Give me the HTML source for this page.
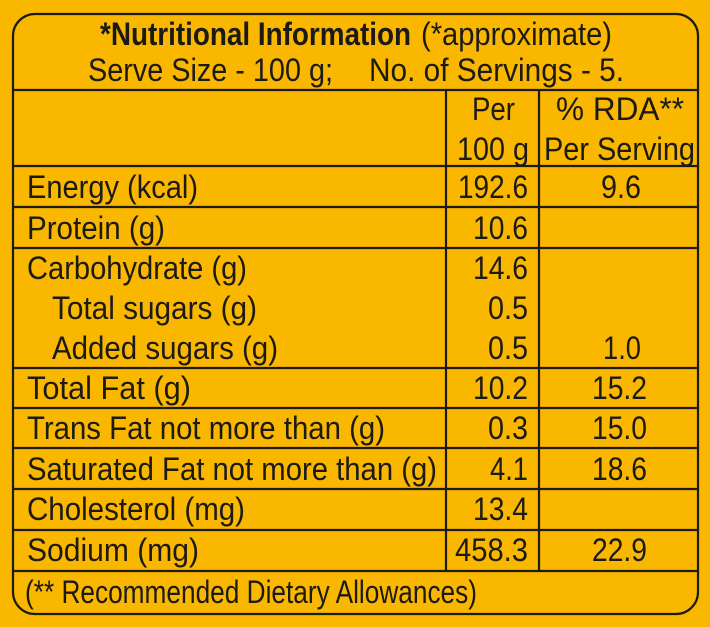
<!DOCTYPE html>
<html><head><meta charset="utf-8"><style>
html,body{margin:0;padding:0;background:#FAB700;}
svg{display:block}
text{font-family:"Liberation Sans Narrow","Liberation Sans",sans-serif;font-size:32px;fill:#1c1a14;}
</style></head><body>
<svg width="710" height="627" viewBox="0 0 710 627" xmlns="http://www.w3.org/2000/svg">
<rect width="710" height="627" fill="#FAB700"/>
<g stroke="#1c1a14" stroke-width="2.2" fill="none">
<rect x="13" y="14" width="685" height="600" rx="22" ry="22"/>
<line x1="13" y1="90" x2="698" y2="90"/>
<line x1="13" y1="166" x2="698" y2="166"/>
<line x1="13" y1="207" x2="698" y2="207"/>
<line x1="13" y1="248" x2="698" y2="248"/>
<line x1="13" y1="368" x2="698" y2="368"/>
<line x1="13" y1="408" x2="698" y2="408"/>
<line x1="13" y1="448" x2="698" y2="448"/>
<line x1="13" y1="489" x2="698" y2="489"/>
<line x1="13" y1="530" x2="698" y2="530"/>
<line x1="13" y1="571" x2="698" y2="571"/>
<line x1="446" y1="90" x2="446" y2="571"/>
<line x1="539" y1="90" x2="539" y2="571"/>
</g>
<text x="100" y="45" font-weight="bold" textLength="311" lengthAdjust="spacingAndGlyphs">*Nutritional Information</text>
<text x="421" y="45" textLength="191" lengthAdjust="spacingAndGlyphs">(*approximate)</text>
<text x="88" y="81" textLength="245" lengthAdjust="spacingAndGlyphs">Serve Size - 100 g;</text>
<text x="369" y="81" textLength="255" lengthAdjust="spacingAndGlyphs">No. of Servings - 5.</text>
<text x="472" y="120" textLength="43" lengthAdjust="spacingAndGlyphs">Per</text>
<text x="457" y="160" textLength="72" lengthAdjust="spacingAndGlyphs">100 g</text>
<text x="556" y="120" textLength="128" lengthAdjust="spacingAndGlyphs">% RDA**</text>
<text x="544" y="160" textLength="151" lengthAdjust="spacingAndGlyphs">Per Serving</text>
<g>
<text x="27" y="198" textLength="171" lengthAdjust="spacingAndGlyphs">Energy (kcal)</text>
<text x="27" y="239" textLength="138" lengthAdjust="spacingAndGlyphs">Protein (g)</text>
<text x="27" y="279" textLength="220" lengthAdjust="spacingAndGlyphs">Carbohydrate (g)</text>
<text x="52" y="319" textLength="205" lengthAdjust="spacingAndGlyphs">Total sugars (g)</text>
<text x="52" y="359" textLength="226" lengthAdjust="spacingAndGlyphs">Added sugars (g)</text>
<text x="27" y="399" textLength="164" lengthAdjust="spacingAndGlyphs">Total Fat (g)</text>
<text x="27" y="439" textLength="358" lengthAdjust="spacingAndGlyphs">Trans Fat not more than (g)</text>
<text x="27" y="480" textLength="410" lengthAdjust="spacingAndGlyphs">Saturated Fat not more than (g)</text>
<text x="27" y="520" textLength="218" lengthAdjust="spacingAndGlyphs">Cholesterol (mg)</text>
<text x="27" y="561" textLength="172" lengthAdjust="spacingAndGlyphs">Sodium (mg)</text>
<text x="25" y="603" textLength="452" lengthAdjust="spacingAndGlyphs">(** Recommended Dietary Allowances)</text>
</g>
<g>
<text x="458" y="198" textLength="70" lengthAdjust="spacingAndGlyphs">192.6</text>
<text x="473" y="239" textLength="55" lengthAdjust="spacingAndGlyphs">10.6</text>
<text x="473" y="279" textLength="55" lengthAdjust="spacingAndGlyphs">14.6</text>
<text x="488" y="319" textLength="40" lengthAdjust="spacingAndGlyphs">0.5</text>
<text x="488" y="359" textLength="40" lengthAdjust="spacingAndGlyphs">0.5</text>
<text x="473" y="399" textLength="55" lengthAdjust="spacingAndGlyphs">10.2</text>
<text x="488" y="439" textLength="40" lengthAdjust="spacingAndGlyphs">0.3</text>
<text x="490" y="480" textLength="38" lengthAdjust="spacingAndGlyphs">4.1</text>
<text x="473" y="520" textLength="55" lengthAdjust="spacingAndGlyphs">13.4</text>
<text x="455" y="561" textLength="73" lengthAdjust="spacingAndGlyphs">458.3</text>
</g>
<g>
<text x="601" y="198" textLength="40" lengthAdjust="spacingAndGlyphs">9.6</text>
<text x="603" y="359" textLength="38" lengthAdjust="spacingAndGlyphs">1.0</text>
<text x="592" y="399" textLength="55" lengthAdjust="spacingAndGlyphs">15.2</text>
<text x="592" y="439" textLength="55" lengthAdjust="spacingAndGlyphs">15.0</text>
<text x="592" y="480" textLength="55" lengthAdjust="spacingAndGlyphs">18.6</text>
<text x="592" y="561" textLength="55" lengthAdjust="spacingAndGlyphs">22.9</text>
</g>
</svg>
</body></html>
